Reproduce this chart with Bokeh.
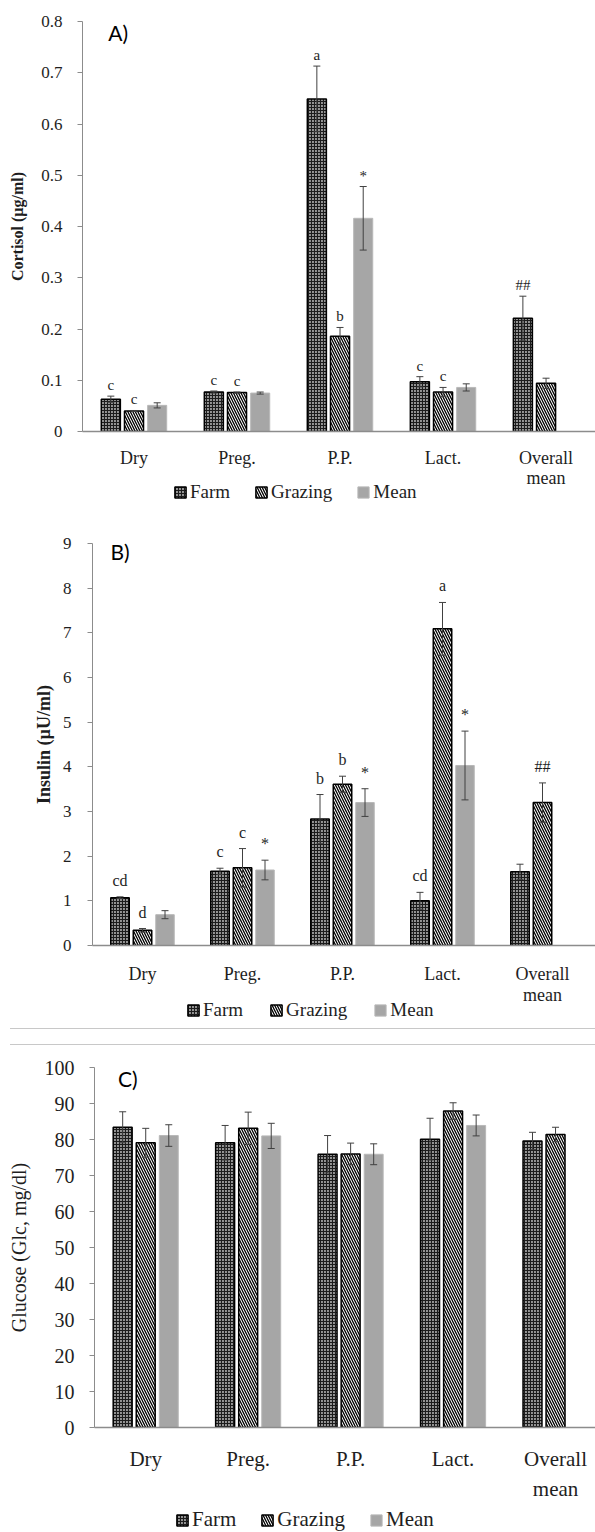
from bokeh.plotting import figure
from bokeh.models import (ColumnDataSource, Whisker, TeeHead, Legend, LegendItem,
                          FixedTicker, Label, Div, Range1d)
from bokeh.layouts import column
from bokeh.core.properties import value
from bokeh.embed import file_html
from bokeh.resources import INLINE

# ---------------- data ----------------
categories = ["Dry", "Preg.", "P.P.", "Lact.", "Overall\nmean"]
series = ["Farm", "Grazing", "Mean"]

# A) Cortisol (ug/ml)
cortisol_farm = [0.063, 0.077, 0.649, 0.097, 0.221]
cortisol_farm_se = [0.006, 0.002, 0.064, 0.010, 0.043]
cortisol_grazing = [0.040, 0.076, 0.186, 0.077, 0.094]
cortisol_grazing_se = [0.001, 0.001, 0.017, 0.009, 0.010]
cortisol_mean = [0.051, 0.075, 0.416, 0.086]
cortisol_mean_se = [0.005, 0.002, 0.062, 0.007]
cortisol_farm_sig = ["c", "c", "a", "c", "##"]
cortisol_grazing_sig = ["c", "c", "b", "c", ""]
cortisol_mean_sig = ["", "", "*", ""]
cortisol_ticks = [0, 0.1, 0.2, 0.3, 0.4, 0.5, 0.6, 0.7, 0.8]
cortisol_tick_labels = ["0", "0.1", "0.2", "0.3", "0.4", "0.5", "0.6", "0.7", "0.8"]

# B) Insulin (uU/ml)
insulin_farm = [1.07, 1.66, 2.83, 1.00, 1.65]
insulin_farm_se = [0.02, 0.07, 0.55, 0.19, 0.17]
insulin_grazing = [0.34, 1.74, 3.61, 7.09, 3.20]
insulin_grazing_se = [0.04, 0.43, 0.18, 0.59, 0.44]
insulin_mean = [0.69, 1.69, 3.20, 4.03]
insulin_mean_se = [0.09, 0.22, 0.31, 0.77]
insulin_farm_sig = ["cd", "c", "b", "cd", ""]
insulin_grazing_sig = ["d", "c", "b", "a", "##"]
insulin_mean_sig = ["", "*", "*", "*"]
insulin_ticks = [0, 1, 2, 3, 4, 5, 6, 7, 8, 9]
insulin_tick_labels = ["0", "1", "2", "3", "4", "5", "6", "7", "8", "9"]

# C) Glucose (mg/dl)
glucose_farm = [83.4, 79.1, 75.9, 80.1, 79.6]
glucose_farm_se = [4.3, 4.8, 5.2, 5.8, 2.4]
glucose_grazing = [79.1, 83.1, 76.0, 87.9, 81.4]
glucose_grazing_se = [4.0, 4.5, 3.0, 2.3, 2.0]
glucose_mean = [81.1, 81.0, 75.9, 83.9]
glucose_mean_se = [3.0, 3.5, 2.9, 2.9]
glucose_farm_sig = ["", "", "", "", ""]
glucose_grazing_sig = ["", "", "", "", ""]
glucose_mean_sig = ["", "", "", ""]
glucose_ticks = [0, 10, 20, 30, 40, 50, 60, 70, 80, 90, 100]
glucose_tick_labels = ["0", "10", "20", "30", "40", "50", "60", "70", "80", "90", "100"]

# ---------------- style ----------------
SERIF = "Liberation Serif"
TXT = "#1e1e1e"
AXIS = "#8c8c8c"
OFFSETS = {"Farm": -0.225, "Grazing": 0.0, "Mean": 0.225}
BAR_W = 0.185
STYLE = {
    "Farm": dict(fill_color="#959595", line_color="black", line_width=1.5,
                 hatch_pattern="cross", hatch_color="#1c1c1c", hatch_scale=3,
                 hatch_weight=1.1),
    "Grazing": dict(fill_color="white", line_color="black", line_width=1.5,
                    hatch_pattern="left_diagonal_line", hatch_color="black",
                    hatch_scale=5, hatch_weight=1.3),
    "Mean": dict(fill_color="#a6a6a6", line_color="#b8b8b8", line_width=1),
}


def make_panel(data, cfg):
    p = figure(width=595, height=cfg["height"],
               x_range=Range1d(-0.5, cfg["xend"]),
               y_range=Range1d(0, cfg["ticks"][-1]),
               output_backend="svg", toolbar_location=None,
               min_border_left=cfg["bl"], min_border_right=0,
               min_border_top=cfg["bt"], min_border_bottom=cfg["bb"],
               outline_line_color=None, background_fill_color="white",
               frame_align=False, margin=(0, 0, 0, 0))
    p.xgrid.visible = False
    p.ygrid.visible = False

    sources = {}
    for s in series:
        vals, errs, sig = data[s]
        xs = [i + OFFSETS[s] for i in range(len(vals))]
        src = ColumnDataSource(dict(
            x=xs, top=vals,
            upper=[v + e for v, e in zip(vals, errs)],
            lower=[v - e for v, e in zip(vals, errs)],
            sig=sig))
        sources[s] = src
        p.vbar(x="x", top="top", width=BAR_W, source=src, **STYLE[s])
        w = Whisker(base="x", upper="upper", lower="lower", source=src,
                    level="annotation", line_color="#404040", line_width=1,
                    upper_head=TeeHead(size=7, line_color="#404040", line_width=1),
                    lower_head=TeeHead(size=7, line_color="#404040", line_width=1))
        p.add_layout(w)
        p.text(x="x", y="upper", text="sig", source=src,
               text_font=value(SERIF), text_font_size=cfg["sig_size"],
               text_align="center", text_baseline="bottom",
               y_offset=cfg["sig_off"], text_color=TXT)

    # y axis
    ya = p.yaxis[0]
    ya.ticker = FixedTicker(ticks=cfg["ticks"])
    ya.major_label_overrides = {t: l for t, l in zip(cfg["ticks"], cfg["tick_labels"])}
    ya.axis_line_color = AXIS
    ya.major_tick_line_color = AXIS
    ya.major_tick_out = 5
    ya.major_tick_in = 0
    ya.minor_tick_line_color = None
    ya.major_label_text_font = SERIF
    ya.major_label_text_font_size = cfg["tick_size"]
    ya.major_label_text_color = TXT
    ya.major_label_standoff = cfg["tick_standoff"]
    ya.axis_label = cfg["ylabel"]
    ya.axis_label_text_font = SERIF
    ya.axis_label_text_font_style = cfg["ylabel_style"]
    ya.axis_label_text_font_size = cfg["ylabel_size"]
    ya.axis_label_text_color = TXT
    ya.axis_label_standoff = cfg["ylabel_standoff"]

    # x axis
    xa = p.xaxis[0]
    xa.ticker = FixedTicker(ticks=list(range(len(categories))))
    xa.major_label_overrides = {i: c for i, c in enumerate(categories)}
    xa.axis_line_color = AXIS
    xa.axis_line_width = 1.5
    xa.major_tick_line_color = None
    xa.minor_tick_line_color = None
    xa.major_label_text_font = SERIF
    xa.major_label_text_font_size = cfg["cat_size"]
    xa.major_label_text_color = TXT
    xa.major_label_standoff = cfg["cat_standoff"]
    xa.major_label_text_line_height = cfg["cat_lh"]

    p.add_layout(Label(x=cfg["letter_xy"][0], y=cfg["letter_xy"][1], text=cfg["letter"],
                       text_font="Lato", text_font_size="21px", text_baseline="top",
                       text_color="black"))

    # legend strip: own small transparent plot tucked under the category labels;
    # its bars reuse the same data but are hidden, so only the legend swatches show
    lg = figure(width=595, height=cfg["leg_h"], x_range=Range1d(-0.5, cfg["xend"]),
                y_range=Range1d(-1e9, -1e9 + 1), title=None,
                x_axis_location=None, y_axis_location=None,
                output_backend="svg", toolbar_location=None, min_border=0,
                outline_line_color=None, background_fill_alpha=0, border_fill_alpha=0,
                frame_align=False, margin=(cfg["leg_mt"], 0, 0, 0))
    lg.grid.visible = False
    items = []
    for s in series:
        r = lg.vbar(x="x", top="top", width=BAR_W, source=sources[s], **STYLE[s])
        r.visible = False
        items.append(LegendItem(label=s, renderers=[r]))
    legend = Legend(items=items, orientation="horizontal", location=(cfg["leg_x"], 0),
                    label_text_font=SERIF, label_text_font_size=cfg["leg_size"],
                    label_text_color=TXT, glyph_width=14, glyph_height=14,
                    label_standoff=3, spacing=cfg["leg_spacing"], padding=0, margin=0,
                    inactive_fill_alpha=0,
                    background_fill_alpha=0, border_line_alpha=0)
    lg.add_layout(legend)
    return p, lg


pA, lA = make_panel(
    {"Farm": (cortisol_farm, cortisol_farm_se, cortisol_farm_sig),
     "Grazing": (cortisol_grazing, cortisol_grazing_se, cortisol_grazing_sig),
     "Mean": (cortisol_mean, cortisol_mean_se, cortisol_mean_sig)},
    dict(height=490, bl=82, bt=21, bb=48, xend=4.48,
         ticks=cortisol_ticks, tick_labels=cortisol_tick_labels,
         tick_size="17px", tick_standoff=15,
         ylabel="Cortisol (µg/ml)", ylabel_style="bold", ylabel_size="16px",
         ylabel_standoff=12,
         cat_size="18px", cat_standoff=10, cat_lh=1.0,
         leg_size="19px", leg_spacing=24, leg_x=173, leg_h=22, leg_mt=-9,
         sig_size="15px", sig_off=-3,
         letter="A)", letter_xy=(-0.25, 0.802)))

pB, lB = make_panel(
    {"Farm": (insulin_farm, insulin_farm_se, insulin_farm_sig),
     "Grazing": (insulin_grazing, insulin_grazing_se, insulin_grazing_sig),
     "Mean": (insulin_mean, insulin_mean_se, insulin_mean_sig)},
    dict(height=504, bl=92, bt=40, bb=50, xend=4.53,
         ticks=insulin_ticks, tick_labels=insulin_tick_labels,
         tick_size="17px", tick_standoff=16,
         ylabel="Insulin (µU/ml)", ylabel_style="bold", ylabel_size="18px",
         ylabel_standoff=6,
         cat_size="18px", cat_standoff=12, cat_lh=1.05,
         leg_size="19px", leg_spacing=26, leg_x=186, leg_h=22, leg_mt=-8,
         sig_size="16px", sig_off=-8,
         letter="B)", letter_xy=(-0.32, 9.1)))

div = Div(text=("<div style='margin-left:10px;width:585px;height:8px;"
                "border-bottom:1px solid #c8c8c8'></div>"
                "<div style='margin-left:10px;width:585px;height:16px;"
                "border-bottom:1px solid #c8c8c8'></div>"),
          width=595, height=34, margin=(0, 0, 0, 0))

pC, lC = make_panel(
    {"Farm": (glucose_farm, glucose_farm_se, glucose_farm_sig),
     "Grazing": (glucose_grazing, glucose_grazing_se, glucose_grazing_sig),
     "Mean": (glucose_mean, glucose_mean_se, glucose_mean_sig)},
    dict(height=449, bl=94, bt=12, bb=67, xend=4.39,
         ticks=glucose_ticks, tick_labels=glucose_tick_labels,
         tick_size="20px", tick_standoff=15,
         ylabel="Glucose (Glc, mg/dl)", ylabel_style="normal", ylabel_size="20px",
         ylabel_standoff=12,
         cat_size="21px", cat_standoff=13, cat_lh=1.28,
         leg_size="21px", leg_spacing=24, leg_x=175, leg_h=28, leg_mt=0,
         sig_size="16px", sig_off=-4,
         letter="C)", letter_xy=(-0.27, 100.5)))

layout = column(pA, lA, pB, lB, div, pC, lC, spacing=0)
open("out.html", "w").write(file_html(layout, INLINE))
